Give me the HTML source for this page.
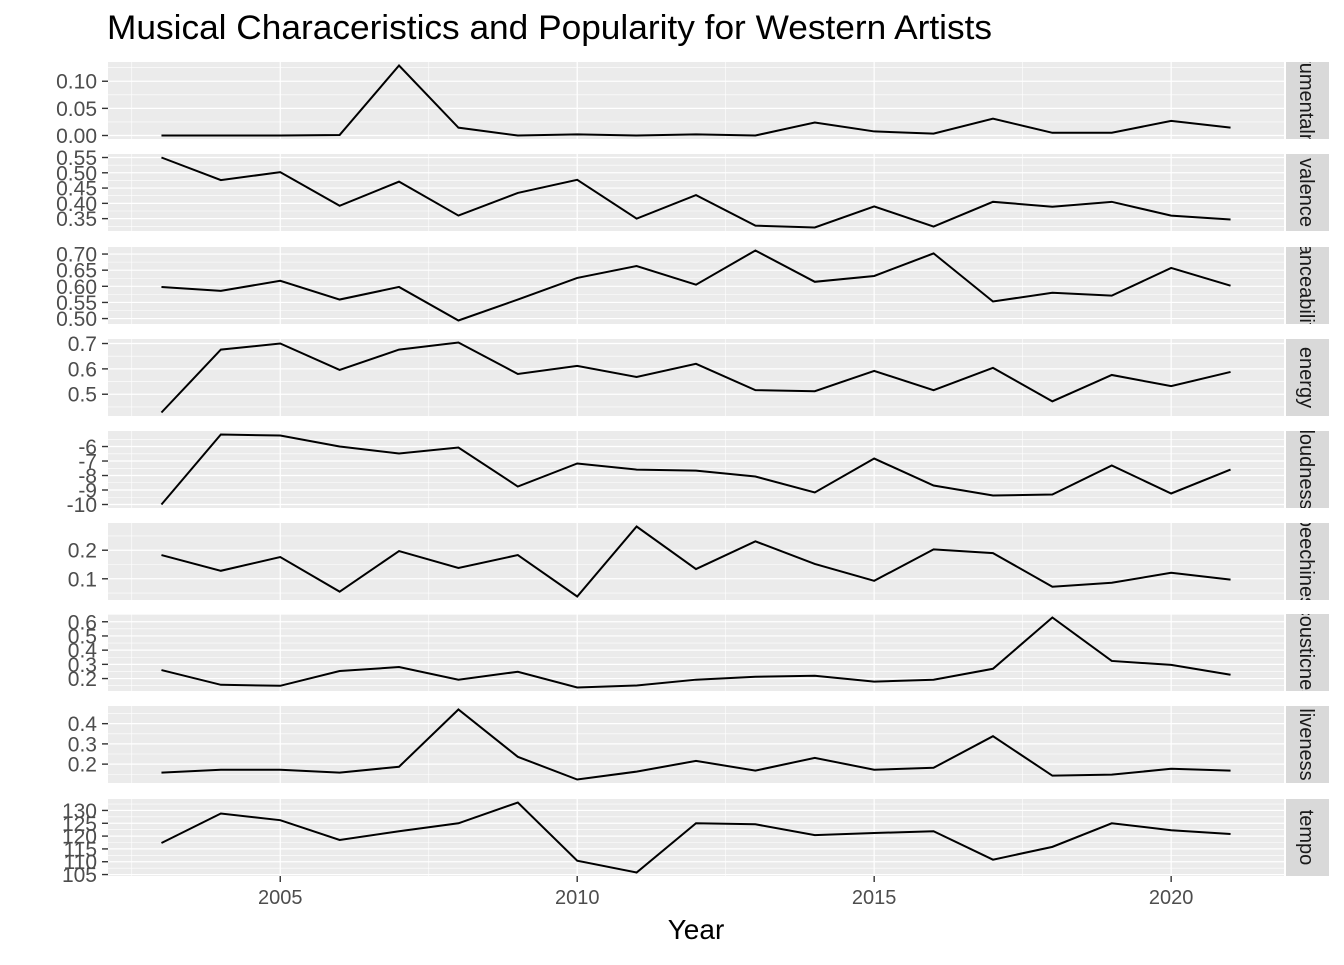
<!DOCTYPE html>
<html><head><meta charset="utf-8"><style>
body{margin:0;background:#fff}
svg text{font-family:"Liberation Sans",Arial,sans-serif}
</style></head><body>
<svg id="chart" width="1344" height="960" xmlns="http://www.w3.org/2000/svg">
<text x="107" y="39" font-size="34" fill="#000" textLength="885" lengthAdjust="spacingAndGlyphs">Musical Characeristics and Popularity for Western Artists</text>
<text x="696" y="939" font-size="28" text-anchor="middle" fill="#000">Year</text>
</svg>
<script>
const years=[2003,2004,2005,2006,2007,2008,2009,2010,2011,2012,2013,2014,2015,2016,2017,2018,2019,2020,2021];
const xTicks=[2005,2010,2015,2020];
const facetNames=["instrumentalness","valence","danceability","energy","loudness","speechiness","acousticness","liveness","tempo"];
const instrumentalness=[0,0,0,0.001,0.129,0.0145,0,0.002,0,0.002,0,0.024,0.0075,0.0035,0.031,0.005,0.005,0.027,0.0145];
const valence=[0.55,0.476,0.502,0.392,0.471,0.360,0.434,0.477,0.350,0.427,0.327,0.321,0.390,0.324,0.405,0.389,0.405,0.360,0.347];
const danceability=[0.598,0.586,0.617,0.559,0.598,0.494,0.559,0.626,0.663,0.605,0.711,0.614,0.632,0.702,0.553,0.580,0.571,0.657,0.602];
const energy=[0.428,0.676,0.7,0.596,0.676,0.704,0.58,0.612,0.568,0.62,0.516,0.512,0.592,0.516,0.604,0.472,0.576,0.532,0.588];
const loudness=[-10,-5.17,-5.24,-6,-6.48,-6.07,-8.76,-7.17,-7.59,-7.66,-8.07,-9.17,-6.83,-8.69,-9.38,-9.31,-7.31,-9.24,-7.59];
const speechiness=[0.183,0.128,0.176,0.055,0.197,0.138,0.183,0.038,0.283,0.134,0.231,0.152,0.093,0.203,0.190,0.072,0.086,0.121,0.097];
const acousticness=[0.260,0.156,0.149,0.253,0.281,0.192,0.248,0.137,0.151,0.192,0.213,0.220,0.178,0.192,0.269,0.630,0.324,0.296,0.227];
const liveness=[0.158,0.172,0.172,0.158,0.187,0.470,0.236,0.124,0.163,0.216,0.168,0.231,0.172,0.182,0.338,0.143,0.148,0.177,0.168];
const tempo=[117.3,128.8,126.2,118.5,121.9,125,133.1,110.4,105.8,125,124.6,120.4,121.2,121.9,110.8,115.8,125,122.3,120.8];
const instrTicks=[0,0.05,0.10], valenceTicks=[0.35,0.40,0.45,0.50,0.55], danceTicks=[0.50,0.55,0.60,0.65,0.70];
const energyTicks=[0.5,0.6,0.7], loudTicks=[-10,-9,-8,-7,-6], speechTicks=[0.1,0.2];
const acousticTicks=[0.2,0.3,0.4,0.5,0.6], liveTicks=[0.2,0.3,0.4], tempoTicks=[105,110,115,120,125,130];

const series=[instrumentalness,valence,danceability,energy,loudness,speechiness,acousticness,liveness,tempo];
const tickSets=[instrTicks,valenceTicks,danceTicks,energyTicks,loudTicks,speechTicks,acousticTicks,liveTicks,tempoTicks];
const decs=[2,2,2,1,0,1,1,1,0];
const svg=document.getElementById('chart');
const NS='http://www.w3.org/2000/svg';
function mk(t,a,p){const e=document.createElementNS(NS,t);for(const k in a)e.setAttribute(k,a[k]);(p||svg).appendChild(e);return e;}
const L=108,R=1284,PH=77,tops=[62,154,247,339,431,523,614,706,799];
const x0=Math.min(...years),x1=Math.max(...years),xe=(x1-x0)*0.05;
const xs=v=>L+(v-(x0-xe))/((x1-x0)+2*xe)*(R-L);

series.forEach((d,i)=>{
  const T=tops[i],B=T+PH;
  const ticks=tickSets[i];
  const lo=Math.min(...d),hi=Math.max(...d),e=(hi-lo)*0.05;
  const ymin=lo-e,ymax=hi+e;
  const ys=v=>B-(v-ymin)/(ymax-ymin)*PH;
  const g=mk('g',{});
  
  
  mk('rect',{x:L,y:T,width:R-L,height:PH,fill:'#ebebeb'},g);
  const step=ticks[1]-ticks[0];
  for(let k=-1;k<ticks.length;k++){const v=ticks[0]+(k+0.5)*step;const y=ys(v);if(y>T&&y<B)mk('line',{x1:L,x2:R,y1:y,y2:y,stroke:'#fff','stroke-width':0.6},g);}
  for(let v=xTicks[0]-2.5;v<=x1+1;v+=5){const x=xs(v);if(x>L&&x<R)mk('line',{x1:x,x2:x,y1:T,y2:B,stroke:'#fff','stroke-width':0.6},g);}
  ticks.forEach(v=>{const y=ys(v);mk('line',{x1:L,x2:R,y1:y,y2:y,stroke:'#fff','stroke-width':1.2},g);
    mk('line',{x1:L-6,x2:L,y1:y,y2:y,stroke:'#333','stroke-width':1.4},g);
    const t=mk('text',{x:L-11,y:y+7.5,'font-size':21,'text-anchor':'end',fill:'#4d4d4d'},g);t.textContent=v.toFixed(decs[i]);
    
    });
  xTicks.forEach(v=>{const x=xs(v);mk('line',{x1:x,x2:x,y1:T,y2:B,stroke:'#fff','stroke-width':1.2},g);});
  const p=mk('polyline',{points:d.map((v,j)=>xs(years[j])+','+ys(v)).join(' '),fill:'none',stroke:'#000','stroke-width':2},g);
  
  
  const cid='c'+i;
  const cp=mk('clipPath',{id:cid},g);mk('rect',{x:1286,y:T,width:43,height:PH},cp);
  const sr=mk('rect',{x:1286,y:T,width:43,height:PH,fill:'#d9d9d9'},g);
  
  
  const cg=mk('g',{'clip-path':'url(#'+cid+')'},g);
  const cx=1307,cy=T+PH/2;
  const st=mk('text',{x:cx,y:cy+7,'font-size':20,'text-anchor':'middle',fill:'#1a1a1a',transform:'rotate(90 '+cx+' '+cy+')'},cg);
  st.textContent=facetNames[i];
  
  
});
const Bl=tops[8]+PH;
xTicks.forEach(v=>{const x=xs(v);mk('line',{x1:x,x2:x,y1:Bl,y2:Bl+6,stroke:'#333','stroke-width':1.4});
  const t=mk('text',{x:x,y:Bl+28,'font-size':20,'text-anchor':'middle',fill:'#4d4d4d'});t.textContent=v;
  
  });
</script>
</body></html>
